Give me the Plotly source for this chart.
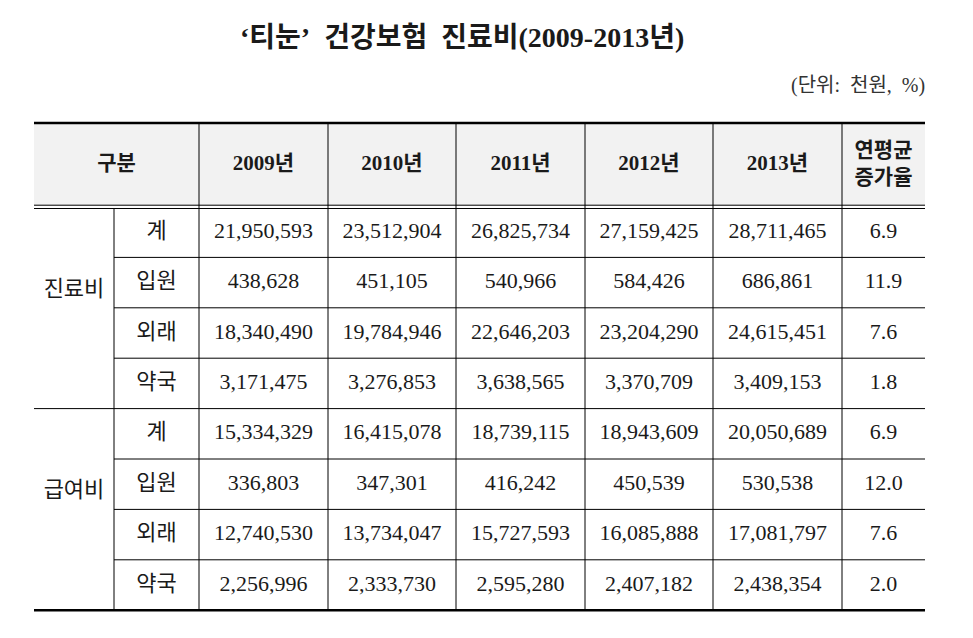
import plotly.graph_objects as go

# Table contents
title = "‘티눈’\u00a0\u00a0건강보험\u00a0\u00a0진료비(2009-2013년)"
unit_note = "(단위:\u00a0\u00a0천원,\u00a0\u00a0%)"
years = ["2009년", "2010년", "2011년", "2012년", "2013년"]
rate_header = "연평균<br>증가율"
groups = ["진료비", "급여비"]
sub_rows = ["계", "입원", "외래", "약국"]

medical_2009 = [21950593, 438628, 18340490, 3171475]
medical_2010 = [23512904, 451105, 19784946, 3276853]
medical_2011 = [26825734, 540966, 22646203, 3638565]
medical_2012 = [27159425, 584426, 23204290, 3370709]
medical_2013 = [28711465, 686861, 24615451, 3409153]
medical_rate = [6.9, 11.9, 7.6, 1.8]

benefit_2009 = [15334329, 336803, 12740530, 2256996]
benefit_2010 = [16415078, 347301, 13734047, 2333730]
benefit_2011 = [18739115, 416242, 15727593, 2595280]
benefit_2012 = [18943609, 450539, 16085888, 2407182]
benefit_2013 = [20050689, 530538, 17081797, 2438354]
benefit_rate = [6.9, 12.0, 7.6, 2.0]

# Layout of the grid (page units)
col_edges = [34, 114, 199, 328, 456, 585, 713, 842, 925]
header_top = 123
header_bottom = 207
row_h = 50.4
page_pad = 8  # the html body margin shifts the plot by this much

FONT = "Liberation Serif, 'Noto Sans CJK KR', serif"
TEXT_COLOR = "#1a1a1a"

medical = [medical_2009, medical_2010, medical_2011, medical_2012, medical_2013]
benefit = [benefit_2009, benefit_2010, benefit_2011, benefit_2012, benefit_2013]


def centre(i):
    return (col_edges[i] + col_edges[i + 1]) / 2


def row_centre(r):
    return header_bottom + row_h * (r + 0.5)


fig = go.Figure()
shapes = []

# header background
shapes.append(dict(type="rect", x0=col_edges[0], x1=col_edges[-1], y0=header_top,
                   y1=header_bottom - 1, fillcolor="#f2f2f2", line_width=0, layer="below"))

n_rows = len(groups) * len(sub_rows)
bottom = header_bottom + row_h * n_rows

# outer lines
shapes.append(dict(type="line", x0=col_edges[0], x1=col_edges[-1], y0=header_top, y1=header_top,
                   line=dict(color="black", width=2.5)))
shapes.append(dict(type="line", x0=col_edges[0], x1=col_edges[-1], y0=bottom, y1=bottom,
                   line=dict(color="black", width=2.5)))
# double line under header
for yy in (header_bottom - 1.8, header_bottom + 1.5):
    shapes.append(dict(type="line", x0=col_edges[0], x1=col_edges[-1], y0=yy, y1=yy,
                       line=dict(color="black", width=1)))

# vertical lines
shapes.append(dict(type="line", x0=col_edges[1], x1=col_edges[1], y0=header_bottom + 1.5, y1=bottom,
                   line=dict(color="black", width=1)))
for x in col_edges[2:-1]:
    shapes.append(dict(type="line", x0=x, x1=x, y0=header_top, y1=bottom,
                       line=dict(color="black", width=1)))

# horizontal lines between rows
for r in range(1, n_rows):
    yy = header_bottom + row_h * r
    x_start = col_edges[0] if r % len(sub_rows) == 0 else col_edges[1]
    shapes.append(dict(type="line", x0=x_start, x1=col_edges[-1], y0=yy, y1=yy,
                       line=dict(color="black", width=1)))

# header texts
hy = (header_top + header_bottom) / 2
head_x = [(col_edges[0] + col_edges[2]) / 2] + [centre(i) for i in range(2, 7)] + [centre(7)]
head_t = ["<b>구분</b>"] + ["<b>%s</b>" % y for y in years] + ["<b>%s</b>" % rate_header]
fig.add_trace(go.Scatter(x=head_x, y=[hy] * len(head_x), text=head_t, mode="text",
                         textfont=dict(family=FONT, size=21, color=TEXT_COLOR),
                         hoverinfo="skip", showlegend=False))

# body texts
xs, ys, ts = [], [], []
for g, (name, block, rates) in enumerate(zip(groups, [medical, benefit],
                                               [medical_rate, benefit_rate])):
    first = g * len(sub_rows)
    xs.append(centre(0))
    ys.append(row_centre(first) + row_h * 1.15)
    ts.append(name)
    for s, sub in enumerate(sub_rows):
        r = first + s
        xs.append(centre(1))
        ys.append(row_centre(r))
        ts.append(sub)
        for c, series in enumerate(block):
            xs.append(centre(c + 2))
            ys.append(row_centre(r))
            ts.append(f"{series[s]:,}")
        xs.append(centre(7))
        ys.append(row_centre(r))
        ts.append(f"{rates[s]:.1f}")

fig.add_trace(go.Scatter(x=xs, y=ys, text=ts, mode="text",
                         textfont=dict(family=FONT, size=22, color=TEXT_COLOR),
                         hoverinfo="skip", showlegend=False))

fig.update_layout(
    width=973, height=638,
    margin=dict(l=0, r=0, t=0, b=0),
    paper_bgcolor="white", plot_bgcolor="white",
    xaxis=dict(range=[page_pad, 973 + page_pad], visible=False, fixedrange=True),
    yaxis=dict(range=[638 + page_pad, page_pad], visible=False, fixedrange=True),
    shapes=shapes,
    annotations=[
        dict(text="<b>%s</b>" % title, x=462, y=37, xref="x", yref="y", showarrow=False,
             font=dict(family=FONT, size=28, color=TEXT_COLOR)),
        dict(text=unit_note, x=927, y=85, xref="x", yref="y", xanchor="right", showarrow=False,
             font=dict(family=FONT, size=20, color="#333333")),
    ],
)

fig.write_html("out.html")
